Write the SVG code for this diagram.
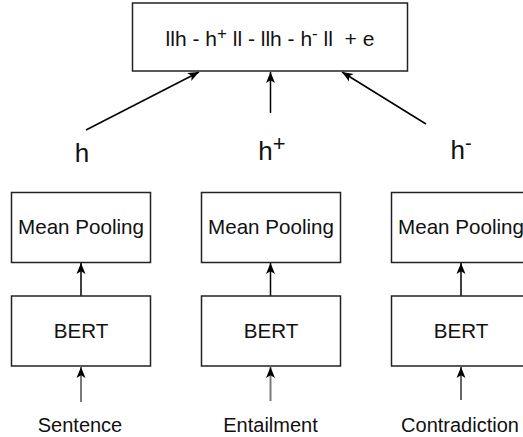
<svg xmlns="http://www.w3.org/2000/svg" width="523" height="437" viewBox="0 0 523 437">
  <style>
    .box { fill: #ffffff; stroke: #222222; stroke-width: 1.5; }
    .lbl { font-family: "Liberation Sans", Arial, Helvetica, sans-serif; fill: #111111; text-anchor: middle; }
    .edge { fill: none; stroke: #000000; stroke-width: 1.5; }
    .edge-gray { fill: none; stroke: #7a7a7a; stroke-width: 2; }
    .edge-thin { fill: none; stroke: #000000; stroke-width: 1.2; }
  </style>
  <defs>
    <marker id="arrow" markerUnits="userSpaceOnUse" markerWidth="12" markerHeight="10" refX="11" refY="4.5" orient="auto" overflow="visible">
      <path d="M0,0 L11,4.5 L0,9 L2.8,4.5 Z" fill="#000000"/>
    </marker>
  </defs>

  <rect width="523" height="437" fill="#ffffff"/>

  <!-- connectors -->
  <g id="connectors">
    <!-- vectors into the loss box -->
    <line class="edge" x1="86" y1="130" x2="199" y2="72" marker-end="url(#arrow)"/>
    <line class="edge" x1="270.5" y1="113" x2="270.5" y2="72" marker-end="url(#arrow)"/>
    <line class="edge" x1="426" y1="124" x2="342" y2="72" marker-end="url(#arrow)"/>
    <!-- BERT to pooling -->
    <line class="edge" x1="81" y1="296" x2="81" y2="263" marker-end="url(#arrow)"/>
    <line class="edge" x1="270.5" y1="296" x2="270.5" y2="263" marker-end="url(#arrow)"/>
    <line class="edge" x1="461" y1="296" x2="461" y2="263" marker-end="url(#arrow)"/>
    <!-- inputs to BERT -->
    <line class="edge-gray" x1="81" y1="402" x2="81" y2="367" marker-end="url(#arrow)"/>
    <line class="edge-gray" x1="270.5" y1="401" x2="270.5" y2="367" marker-end="url(#arrow)"/>
    <line class="edge-thin" x1="461" y1="400" x2="461" y2="367" marker-end="url(#arrow)"/>
  </g>

  <!-- loss node -->
  <g id="loss">
    <rect class="box" x="132.5" y="3" width="275" height="68"/>
    <text class="lbl" x="270" y="46" font-size="21" xml:space="preserve">llh - h<tspan font-size="17" dy="-7">+</tspan><tspan dy="7"> ll - llh - h</tspan><tspan font-size="17" dy="-7">-</tspan><tspan dy="7"> ll  + e</tspan></text>
  </g>

  <!-- embedding labels -->
  <g id="h">
    <text class="lbl" x="82" y="162" font-size="26">h</text>
  </g>
  <g id="h-plus">
    <text class="lbl" x="272" y="160" font-size="26">h<tspan font-size="22" dy="-9">+</tspan></text>
  </g>
  <g id="h-minus">
    <text class="lbl" x="461" y="159" font-size="26">h<tspan font-size="20" dy="-9">-</tspan></text>
  </g>

  <!-- pooling nodes -->
  <g id="pool-1">
    <rect class="box" x="11.5" y="192.5" width="139" height="70"/>
    <text class="lbl" x="81" y="234" font-size="20.6">Mean Pooling</text>
  </g>
  <g id="pool-2">
    <rect class="box" x="201.5" y="192.5" width="139" height="70"/>
    <text class="lbl" x="271" y="234" font-size="20.6">Mean Pooling</text>
  </g>
  <g id="pool-3">
    <rect class="box" x="391.5" y="192.5" width="139" height="70"/>
    <text class="lbl" x="461" y="234" font-size="20.6">Mean Pooling</text>
  </g>

  <!-- encoder nodes -->
  <g id="bert-1">
    <rect class="box" x="11.5" y="296" width="139" height="70"/>
    <text class="lbl" x="81" y="338" font-size="20.6">BERT</text>
  </g>
  <g id="bert-2">
    <rect class="box" x="201.5" y="296" width="139" height="70"/>
    <text class="lbl" x="271" y="338" font-size="20.6">BERT</text>
  </g>
  <g id="bert-3">
    <rect class="box" x="391.5" y="296" width="139" height="70"/>
    <text class="lbl" x="461" y="338" font-size="20.6">BERT</text>
  </g>

  <!-- input labels -->
  <g id="in-sentence">
    <text class="lbl" x="80" y="432" font-size="20">Sentence</text>
  </g>
  <g id="in-entailment">
    <text class="lbl" x="270.5" y="432" font-size="20">Entailment</text>
  </g>
  <g id="in-contradiction">
    <text class="lbl" x="460" y="432" font-size="20">Contradiction</text>
  </g>
</svg>
